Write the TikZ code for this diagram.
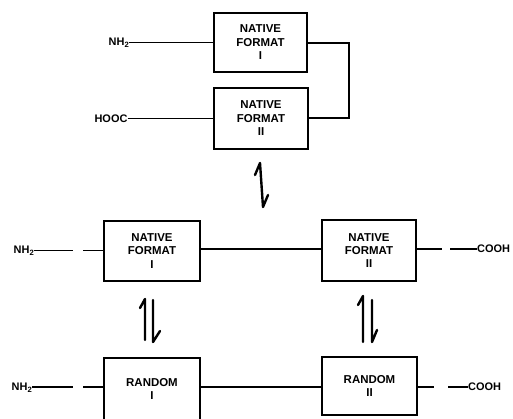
\documentclass[tikz,border=0pt]{standalone}
\usepackage{fontspec}
\setmainfont{Liberation Sans}
\begin{document}
\begin{tikzpicture}[x=1bp,y=-1bp,
  box/.style={draw,line width=1.8bp,inner sep=0pt,align=center,
    font=\bfseries\fontsize{11.5}{13.5}\selectfont},
  lbl/.style={inner sep=0pt,font=\bfseries\fontsize{11}{12}\selectfont},
  ln/.style={line width=1.5bp},
  eq/.style={line width=2.4bp,line cap=round,line join=round}]
\useasboundingbox (0,0) rectangle (513,418);
% top pair
\node[box,minimum width=93bp,minimum height=59bp] (b1) at (260.5,42.5) {NATIVE\\FORMAT\\I};
\node[box,minimum width=94bp,minimum height=61bp] (b2) at (261,118.5) {NATIVE\\FORMAT\\II};
\node[lbl] (nh2a) at (119,42.5) {NH$_{\mathbf 2}$};
\node[lbl] (hooc) at (111,118.5) {HOOC};
\draw[ln] (nh2a) -- (b1);
\draw[ln] (hooc) -- (b2);
\coordinate (k1) at (349,43);
\coordinate (k2) at (349,118);
\draw[ln] (b1.east |- k1) -- (k1) -- (k2) -- (b2.east |- k2);
% single equilibrium arrow
\draw[eq] (255,175) -- (260,163) -- (263,207) -- (268,195);
% middle row
\node[box,minimum width=96bp,minimum height=60bp] (n1) at (152,251) {NATIVE\\FORMAT\\I};
\node[box,minimum width=94bp,minimum height=61bp] (n2) at (369,250.5) {NATIVE\\FORMAT\\II};
\node[lbl] (nh2b) at (24,251) {NH$_{\mathbf 2}$};
\node[lbl,anchor=west] (coa) at (477,249) {COOH};
\coordinate (g1) at (73,250.5);
\coordinate (g2) at (83,250.5);
\coordinate (g3) at (442,249);
\coordinate (g4) at (450,249);
\draw[ln] (nh2b.east |- g1) -- (g1);
\draw[ln] (g2) -- (n1.west |- g2);
\draw[ln] (n1.east |- 0,249) -- (n2.west |- 0,249);
\draw[ln] (n2.east |- g3) -- (g3);
\draw[ln] (g4) -- (coa.west |- g4);
% double equilibrium arrows
\draw[eq] (140,308) -- (145,299) -- (145,340);
\draw[eq] (153,300) -- (153,342) -- (160,331);
\draw[eq] (358,305) -- (363,296) -- (363,342);
\draw[eq] (372,300) -- (372,342) -- (377,330);
% bottom row
\node[box,minimum width=96bp,minimum height=62bp] (r1) at (152,389) {RANDOM\\I};
\node[box,minimum width=95bp,minimum height=58bp] (r2) at (369.5,386) {RANDOM\\II};
\node[lbl] (nh2c) at (22,388) {NH$_{\mathbf 2}$};
\node[lbl,anchor=west] (cob) at (468,387) {COOH};
\coordinate (h1) at (73,387);
\coordinate (h2) at (83,387);
\coordinate (h3) at (434,387);
\coordinate (h4) at (448,387);
\draw[ln] (nh2c.east |- h1) -- (h1);
\draw[ln] (h2) -- (r1.west |- h2);
\draw[ln] (r1.east |- 0,387) -- (r2.west |- 0,387);
\draw[ln] (r2.east |- h3) -- (h3);
\draw[ln] (h4) -- (cob.west |- h4);
\end{tikzpicture}
\end{document}
